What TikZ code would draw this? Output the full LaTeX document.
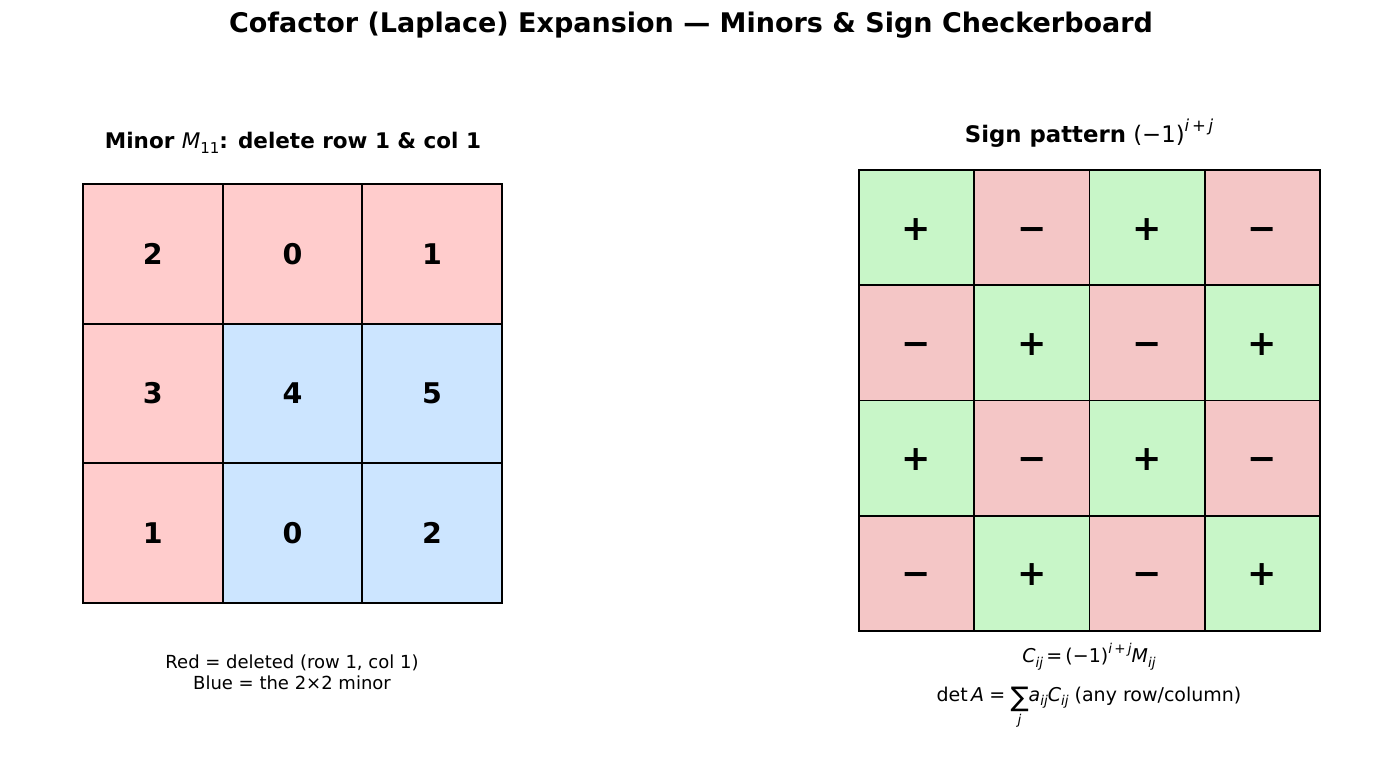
\documentclass[tikz,border=0pt]{standalone}
\usepackage{fontspec}
\setmainfont{DejaVu Sans}
\definecolor{delred}{HTML}{FFCCCC}
\definecolor{minblue}{HTML}{CCE5FF}
\definecolor{posgreen}{HTML}{C8F6C8}
\definecolor{negred}{HTML}{F4C6C6}
\newcommand\lo[2]{\raisebox{-0.26em}{\fontsize{#1}{#1}\selectfont\itshape #2}}
\newcommand\hi[2]{\raisebox{0.48em}{\fontsize{#1}{#1}\selectfont #2}}
\newcommand\sumj{\vtop{\halign{\hfil##\hfil\cr\raisebox{-0.3em}{\fontsize{27}{27}\selectfont ∑}\cr\noalign{\kern1pt}\fontsize{13.5}{13.5}\selectfont\itshape j\cr}}}
\tikzset{
  lcell/.style={draw=black, line width=2pt, minimum size=139.7pt, inner sep=0pt, font=\fontsize{28.5}{28.5}\selectfont\bfseries},
  rcell/.style={draw=black, line width=1.5pt, minimum size=115.25pt, inner sep=0pt, text height=25pt, text depth=0pt, font=\fontsize{35}{35}\selectfont\bfseries},
  poscell/.style={rcell, fill=posgreen},
  negcell/.style={rcell, fill=negred},
}
\begin{document}
\begin{tikzpicture}[x=1pt,y=-1pt]
\useasboundingbox (0,0) rectangle (1390,770);
\node[font=\fontsize{27}{27}\selectfont\bfseries] (title) at (691,25) {Cofactor (Laplace) Expansion — Minors \& Sign Checkerboard};
% left
\node[font=\fontsize{21.5}{21.5}\selectfont\bfseries] (ltitle) at (293,143) {Minor {\mdseries\itshape M}\lo{15}{\upshape\mdseries 11}: delete row 1 \& col 1};
\node[lcell, fill=delred] (L11) at (152.85,253.85) {2};
\node[lcell, fill=delred] (L12) at (292.5,253.85) {0};
\node[lcell, fill=delred] (L13) at (432.15,253.85) {1};
\node[lcell, fill=delred] (L21) at (152.85,393.5) {3};
\node[lcell, fill=minblue] (L22) at (292.5,393.5) {4};
\node[lcell, fill=minblue] (L23) at (432.15,393.5) {5};
\node[lcell, fill=delred] (L31) at (152.85,533.15) {1};
\node[lcell, fill=minblue] (L32) at (292.5,533.15) {0};
\node[lcell, fill=minblue] (L33) at (432.15,533.15) {2};
\node[font=\fontsize{18}{21}\selectfont, align=center] (lnote) at (292,672.5) {Red = deleted (row 1, col 1)\\Blue = the 2×2 minor};
% right
\node[font=\fontsize{22.8}{22.8}\selectfont] (rtitle) at (1089,133) {\textbf{Sign pattern} (−1)\hi{16.5}{\itshape i\upshape\,+\,\itshape j}};
\foreach \r/\y in {1/227.6,2/342.9,3/458.1,4/573.4}{
  \foreach \c/\x in {1/916.6,2/1031.9,3/1147.1,4/1262.4}{
    \pgfmathtruncatemacro\parity{mod(\r+\c,2)}
    \ifnum\parity=0
      \node[poscell] (R\r\c) at (\x,\y) {+};
    \else
      \node[negcell] (R\r\c) at (\x,\y) {−};
    \fi
  }
}
\node[font=\fontsize{19}{19}\selectfont] (f1) at (1089,657) {{\itshape C}\lo{13.5}{ij}\,=\,(−1)\hi{13.5}{\itshape i\upshape\,+\,\itshape j}{\itshape M}\lo{13.5}{ij}};
\node[font=\fontsize{19}{19}\selectfont, anchor=base] (f2) at (1089,701) {det\,{\itshape A}\;=\;\sumj{\itshape a}\lo{13.5}{ij}{\itshape C}\lo{13.5}{ij} (any row/column)};
\end{tikzpicture}
\end{document}
